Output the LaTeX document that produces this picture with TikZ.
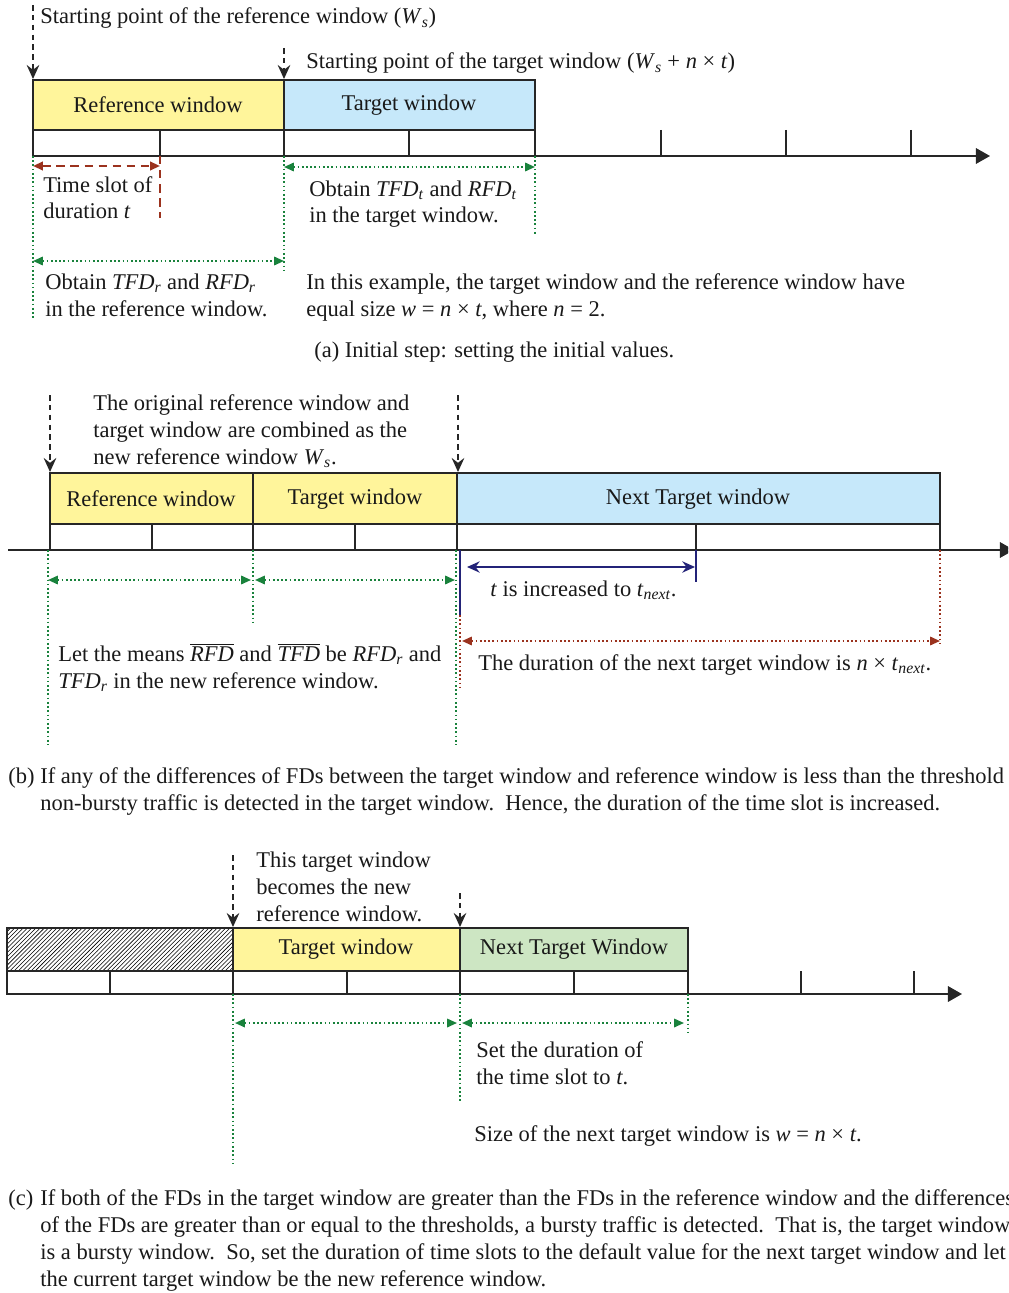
\documentclass[tikz,border=0pt]{standalone}
\usepackage{fontspec}
\setmainfont{Liberation Serif}
\usetikzlibrary{arrows.meta,patterns}
\definecolor{refyel}{RGB}{255,245,155}
\definecolor{tgtblue}{RGB}{198,232,250}
\definecolor{nxtgreen}{RGB}{205,230,195}
\definecolor{dimgreen}{RGB}{25,130,60}
\definecolor{dimred}{RGB}{155,50,30}
\definecolor{dimnavy}{RGB}{35,35,120}
\newcommand{\ws}{\textit{W}\textsubscript{\textit{s}}}
\newcommand{\fd}[2]{\textit{#1}\textsubscript{\textit{#2}}}
\newcommand{\tnext}{\textit{t}\textsubscript{\textit{next}}}
\begin{document}
\begin{tikzpicture}[x=0.025cm, y=-0.025cm,
            every node/.style={font=\fontsize{16}{19.1}\selectfont, inner sep=0pt, text=black!90},
            lbl/.style={anchor=base west, align=left},
            win/.style={draw=black!85, line width=1.2pt},
            axis/.style={draw=black!85, line width=1.3pt, -{Triangle[length=10pt,width=11pt]}},
            startarr/.style={draw=black!85, line width=1pt, dash pattern=on 4pt off 3pt, -{Stealth[length=10pt,width=9pt,inset=3.5pt]}},
            gdot/.style={dimgreen, line width=1.3pt, dash pattern=on 1.2pt off 1.8pt},
            gdim/.style={gdot, {Triangle[length=7pt,width=6pt]}-{Triangle[length=7pt,width=6pt]}},
            rdash/.style={dimred, line width=1.5pt, dash pattern=on 6pt off 4pt},
            rdot/.style={dimred, line width=1.3pt, dash pattern=on 1.2pt off 1.8pt},
            ndim/.style={dimnavy, line width=1.5pt}
            ]
            \useasboundingbox (0,0) rectangle (1008,1293);
            \clip (0,0) rectangle (1008,1293);

            % (a) initial step
            \draw[win, fill=refyel] (33,80) rectangle (284,130);
            \draw[win, fill=tgtblue] (284,80) rectangle (535,130);
            \node (ra) at (158,105) {Reference window};
            \node (ta) at (409,105) {Target window};
            \draw[win] (33,130) rectangle (535,156);
            \foreach \x in {160,284,409} \draw[win] (\x,130) -- (\x,156);
            \foreach \x in {661,786,911} \draw[win] (\x,130) -- (\x,156);
            \coordinate (a0) at (33,156);
            \coordinate (a1) at (990,156);
            \draw[axis] (a0) -- (a1);

            \coordinate (s1) at (33,5);
            \coordinate (e1) at (33,79);
            \coordinate (s2) at (284,48);
            \coordinate (e2) at (284,79);
            \draw[startarr] (s1) -- (e1);
            \draw[startarr] (s2) -- (e2);
            \node[lbl] (sr) at (40,24) {Starting point of the reference window (\ws)};
            \node[lbl] (st) at (306,69) {Starting point of the target window (\ws\ + \textit{n} × \textit{t})};

            \coordinate (d1) at (33,166);
            \coordinate (d2) at (160,166);
            \draw[rdash, {Triangle[length=7pt,width=6pt]}-{Triangle[length=7pt,width=6pt]}] (d1) -- (d2);
            \draw[rdash] (160,156) -- (160,218);
            \node[lbl] (slot) at (43,219) {Time slot of\\duration \textit{t}};

            \draw[gdot] (33,156) -- (33,320);
            \draw[gdot] (284,156) -- (284,270);
            \draw[gdot] (535,156) -- (535,235);
            \coordinate (g1) at (284,167);
            \coordinate (g2) at (535,167);
            \draw[gdim] (g1) -- (g2);
            \node[lbl] (obt) at (309,223) {Obtain \fd{TFD}{t} and \fd{RFD}{t}\\in the target window.};
            \coordinate (g3) at (33,261);
            \coordinate (g4) at (284,261);
            \draw[gdim] (g3) -- (g4);
            \node[lbl] (obr) at (45,316) {Obtain \fd{TFD}{r} and \fd{RFD}{r}\\in the reference window.};
            \node[lbl] (ex) at (306,316) {In this example, the target window and the reference window have\\equal size \textit{w} = \textit{n} × \textit{t}, where \textit{n} = 2.};
            \node[lbl] (capa) at (314,357) {(a) Initial step: setting the initial values.};

            % (b) non-bursty
            \draw[win, fill=refyel] (50,473) rectangle (253,524);
            \draw[win, fill=refyel] (253,473) rectangle (457,524);
            \draw[win, fill=tgtblue] (457,473) rectangle (940,524);
            \node (rb) at (151,499) {Reference window};
            \node (tb) at (355,499) {Target window};
            \node (nb) at (698,499) {Next Target window};
            \draw[win] (50,524) rectangle (940,550);
            \foreach \x in {152,253,355,457,696} \draw[win] (\x,524) -- (\x,550);
            \coordinate (b0) at (8,550);
            \coordinate (b1) at (1014,550);
            \draw[axis] (b0) -- (b1);

            \coordinate (s3) at (50,395);
            \coordinate (e3) at (50,472);
            \coordinate (s4) at (458,395);
            \coordinate (e4) at (458,472);
            \draw[startarr] (s3) -- (e3);
            \draw[startarr] (s4) -- (e4);
            \node[lbl] (orig) at (93,464) {The original reference window and\\target window are combined as the\\new reference window \ws.};

            \draw[gdot] (48,550) -- (48,745);
            \draw[gdot] (253,550) -- (253,622);
            \draw[gdot] (456,550) -- (456,745);
            \coordinate (g5) at (48,580);
            \coordinate (g6) at (251,580);
            \coordinate (g7) at (255,580);
            \coordinate (g8) at (455,580);
            \draw[gdim] (g5) -- (g6);
            \draw[gdim] (g7) -- (g8);
            \node[lbl] (mean) at (58,688) {Let the means $\overline{\mbox{\textit{RFD}}}$ and $\overline{\mbox{\textit{TFD}}}$ be \fd{RFD}{r} and\\\fd{TFD}{r} in the new reference window.};

            \draw[ndim] (460,550) -- (460,615);
            \draw[ndim] (696,550) -- (696,582);
            \coordinate (n1) at (467,567);
            \coordinate (n2) at (695,567);
            \draw[ndim, {Stealth[length=9pt,width=8pt]}-{Stealth[length=9pt,width=8pt]}] (n1) -- (n2);
            \node[lbl] (inc) at (490,596) {\textit{t} is increased to \tnext.};

            \draw[rdot] (460,615) -- (460,690);
            \draw[rdot] (940,550) -- (940,643);
            \coordinate (r1) at (462,641);
            \coordinate (r2) at (940,641);
            \draw[rdot, {Triangle[length=7pt,width=6pt]}-{Triangle[length=7pt,width=6pt]}] (r1) -- (r2);
            \node[lbl] (dur) at (478,670) {The duration of the next target window is \textit{n} × \tnext.};

            \node[lbl] (capbl) at (8,783) {(b)};
            \node[lbl] (capb) at (40,810) {If any of the differences of FDs between the target window and reference window is less than the threshold\\non-bursty traffic is detected in the target window.\ \ Hence, the duration of the time slot is increased.};

            % (c) bursty
            \draw[win, pattern=north east lines] (7,928) rectangle (233,971);
            \draw[win, fill=refyel] (233,928) rectangle (460,971);
            \draw[win, fill=nxtgreen] (460,928) rectangle (688,971);
            \node (tc) at (346,949) {Target window};
            \node (nc) at (574,949) {Next Target Window};
            \draw[win] (7,971) rectangle (688,994);
            \foreach \x in {110,233,347,460,574} \draw[win] (\x,971) -- (\x,994);
            \foreach \x in {801,914} \draw[win] (\x,971) -- (\x,994);
            \coordinate (c0) at (7,994);
            \coordinate (c1) at (962,994);
            \draw[axis] (c0) -- (c1);

            \coordinate (s5) at (233,855);
            \coordinate (e5) at (233,927);
            \coordinate (s6) at (460,893);
            \coordinate (e6) at (460,927);
            \draw[startarr] (s5) -- (e5);
            \draw[startarr] (s6) -- (e6);
            \node[lbl] (this) at (256,921) {This target window\\becomes the new\\reference window.};

            \draw[gdot] (233,994) -- (233,1165);
            \draw[gdot] (460,994) -- (460,1103);
            \draw[gdot] (688,994) -- (688,1032);
            \coordinate (g9) at (235,1023);
            \coordinate (g10) at (457,1023);
            \coordinate (g11) at (462,1023);
            \coordinate (g12) at (684,1023);
            \draw[gdim] (g9) -- (g10);
            \draw[gdim] (g11) -- (g12);
            \node[lbl] (set) at (476,1084) {Set the duration of\\the time slot to \textit{t}.};
            \node[lbl] (size) at (474,1141) {Size of the next target window is \textit{w} = \textit{n} × \textit{t}.};

            \node[lbl] (capcl) at (8,1205) {(c)};
            \node[lbl] (capc) at (40,1286) {If both of the FDs in the target window are greater than the FDs in the reference window and the differences\\of the FDs are greater than or equal to the thresholds, a bursty traffic is detected.\ \ That is, the target window\\is a bursty window.\ \ So, set the duration of time slots to the default value for the next target window and let\\the current target window be the new reference window.};
            \end{tikzpicture}
\end{document}
